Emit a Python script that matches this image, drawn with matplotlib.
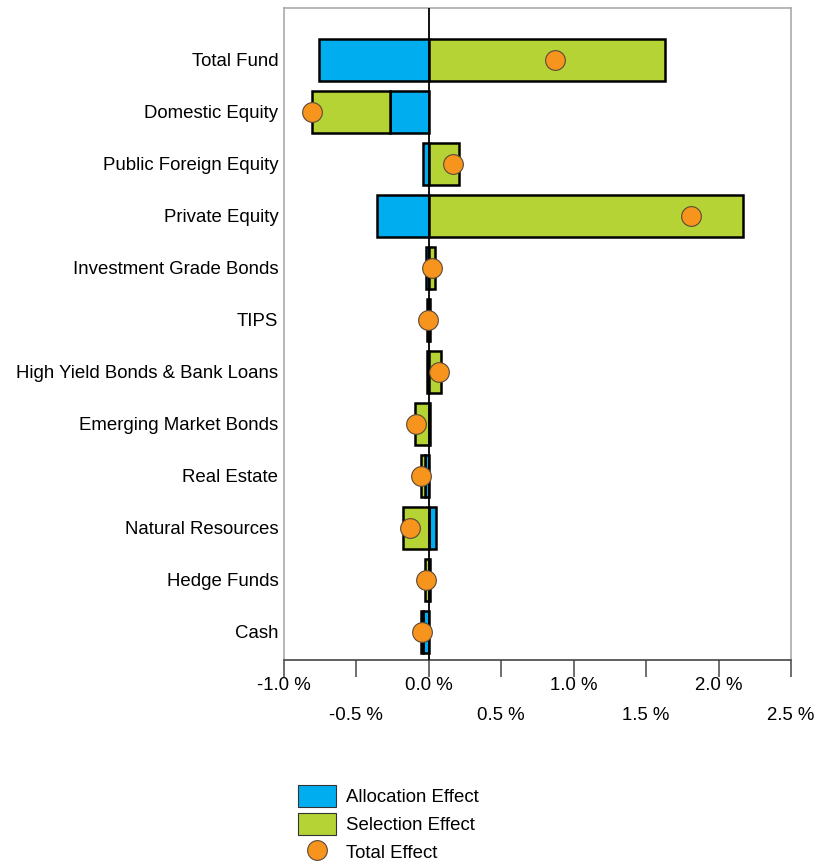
import matplotlib
matplotlib.use("Agg")
import matplotlib.pyplot as plt
from matplotlib.patches import Patch
from matplotlib.lines import Line2D
import numpy as np

plt.rcParams['font.family'] = ['Liberation Sans', 'DejaVu Sans']

categories = [
    "Total Fund", "Domestic Equity", "Public Foreign Equity", "Private Equity",
    "Investment Grade Bonds", "TIPS", "High Yield Bonds & Bank Loans",
    "Emerging Market Bonds", "Real Estate", "Natural Resources",
    "Hedge Funds", "Cash",
]
allocation = [-0.76, -0.27, -0.04, -0.36, -0.02, 0.008, -0.01, 0.005, -0.03, 0.05, 0.005, -0.04]
selection = [1.63, -0.54, 0.21, 2.17, 0.04, -0.015, 0.085, -0.095, -0.025, -0.18, -0.025, -0.012]
total = [0.87, -0.81, 0.17, 1.81, 0.02, -0.007, 0.07, -0.09, -0.055, -0.13, -0.02, -0.05]
tick_values = [-1.0, -0.5, 0.0, 0.5, 1.0, 1.5, 2.0, 2.5]

BLUE = "#00AEEF"
GREEN = "#B5D334"
ORANGE = "#F7941D"

fig = plt.figure(figsize=(8.19, 8.64), dpi=100)
ax = fig.add_axes([284 / 819, 1 - 660 / 864, (791 - 284) / 819, (660 - 8) / 864])

y = np.arange(len(categories))
alloc = np.array(allocation)
sel = np.array(selection)

# stack: allocation from zero, selection continues on the same side or starts at zero
sel_left = np.where(np.sign(sel) == np.sign(alloc), alloc, 0.0)

h = 0.82
ax.barh(y, alloc, height=h, color=BLUE, edgecolor="black", linewidth=1.8, zorder=2)
ax.barh(y, sel, left=sel_left, height=h, color=GREEN, edgecolor="black", linewidth=1.8, zorder=2)
ax.axvline(0, color="black", linewidth=1.3, zorder=3)
ax.plot(total, y, linestyle="none", marker="o", markersize=14.2,
        markerfacecolor=ORANGE, markeredgecolor="#5a4a3a", markeredgewidth=0.8, zorder=4)

ax.set_xlim(-1.0, 2.5)
ax.set_ylim(len(categories) - 1 + 0.54, -1.0)
ax.set_yticks(y)
ax.set_yticklabels(categories, fontsize=13.4)
ax.tick_params(axis="y", length=0, pad=4)

ax.set_xticks(tick_values)
labels = []
for i, v in enumerate(tick_values):
    txt = f"{v:.1f} %"
    labels.append(txt if i % 2 == 0 else "\n" + txt)
ax.set_xticklabels(labels, fontsize=13.4, linespacing=2.05)
ax.tick_params(axis="x", length=12, width=1.2, color="#555555", pad=0)

for side in ["left", "right", "top"]:
    ax.spines[side].set_color("#aaaaaa")
    ax.spines[side].set_linewidth(1.2)
ax.spines["bottom"].set_color("#444444")
ax.spines["bottom"].set_linewidth(1.2)

handles = [
    Patch(facecolor=BLUE, edgecolor="#333333", linewidth=0.8),
    Patch(facecolor=GREEN, edgecolor="#333333", linewidth=0.8),
    Line2D([], [], linestyle="none", marker="o", markersize=14.2,
           markerfacecolor=ORANGE, markeredgecolor="#5a4a3a", markeredgewidth=0.8),
]
fig.legend(handles, ["Allocation Effect", "Selection Effect", "Total Effect"],
           loc="upper left", bbox_to_anchor=(289 / 819, 1 - 776 / 864),
           frameon=False, fontsize=13.4, handlelength=2.0, handleheight=1.4,
           labelspacing=0.35, handletextpad=0.55, borderpad=0)

fig.savefig("out.png", dpi=100)
